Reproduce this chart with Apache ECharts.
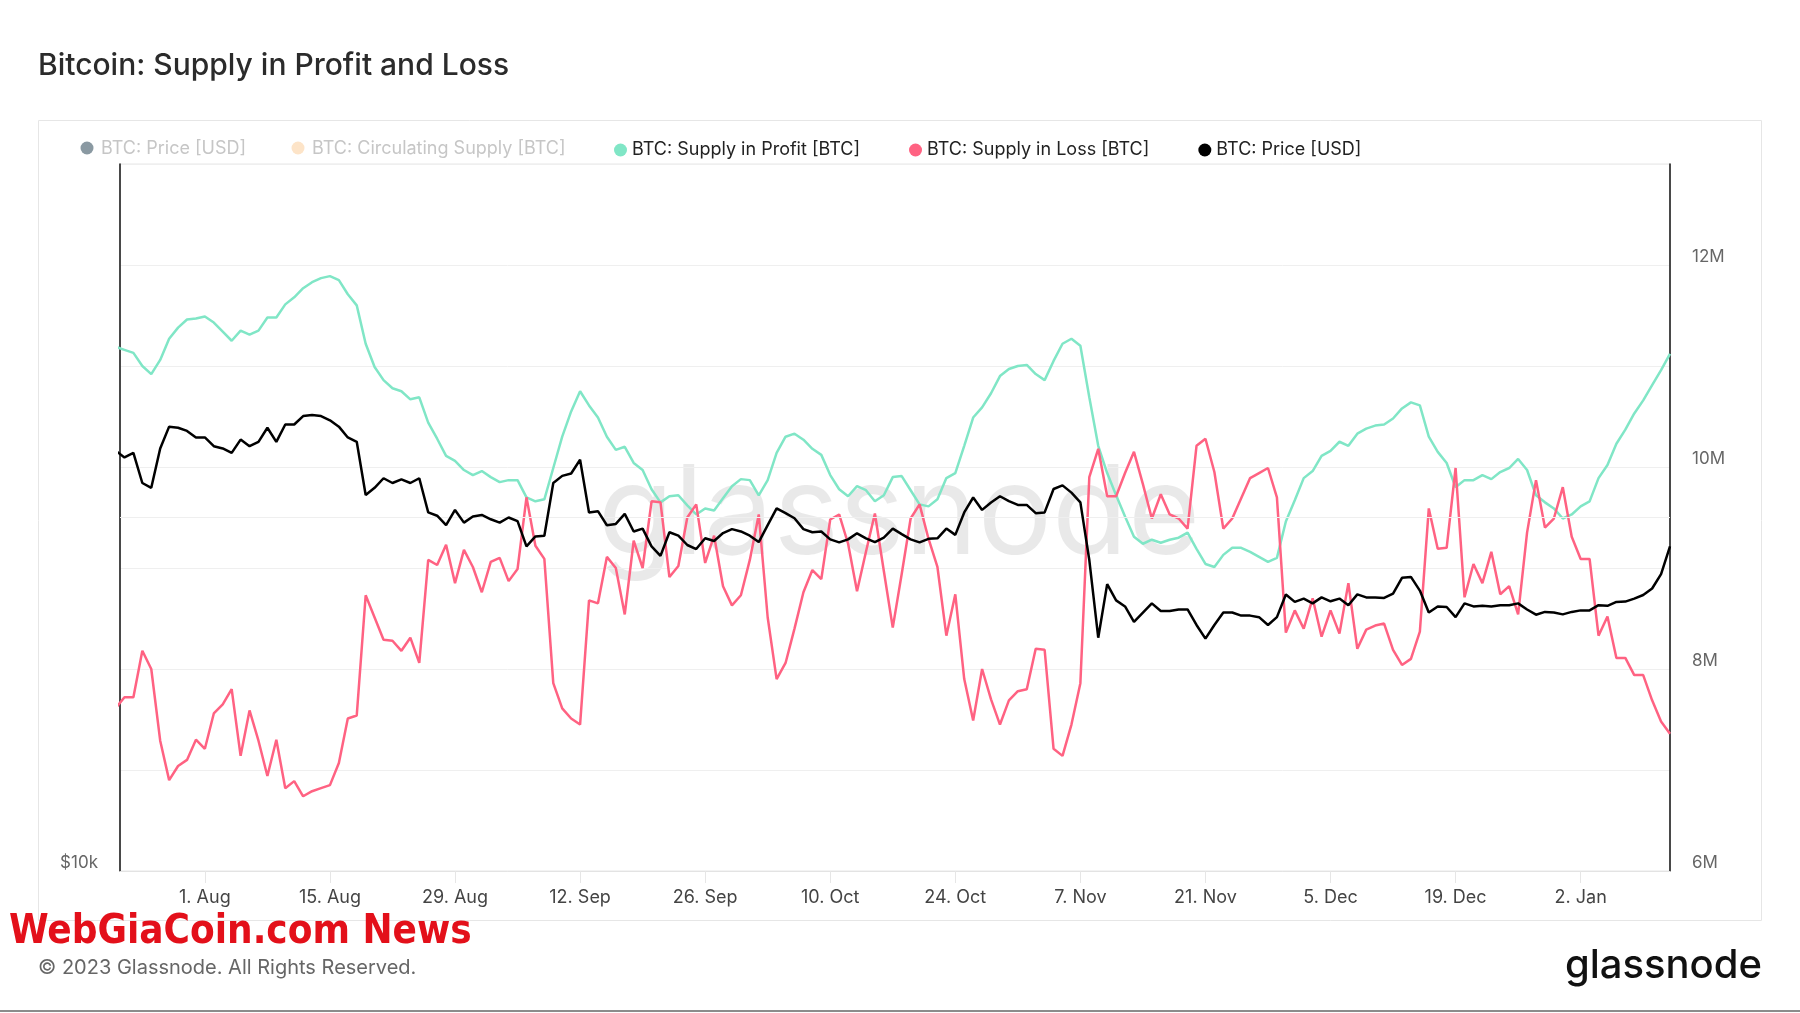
<!DOCTYPE html>
<html><head><meta charset="utf-8">
<script src="https://cdn.jsdelivr.net/npm/echarts@6/dist/echarts.min.js"></script>
<style>html,body{margin:0;padding:0;background:#fff}#c{width:1800px;height:1013px}</style>
</head><body><div id="c"></div>
<script>
// ---- data (daily, starting at startDate) ----
const startDate = '2022-07-22';
const tickDates = ['2022-08-01','2022-08-15','2022-08-29','2022-09-12','2022-09-26','2022-10-10','2022-10-24','2022-11-07','2022-11-21','2022-12-05','2022-12-19','2023-01-02'];
const tickLabels = ['1. Aug','15. Aug','29. Aug','12. Sep','26. Sep','10. Oct','24. Oct','7. Nov','21. Nov','5. Dec','19. Dec','2. Jan'];
const rightTicks = ['6M','8M','10M','12M'];

// Supply in Profit [M BTC]
const supplyProfit = [11.19,
 11.16,11.13,11.00,10.92,11.06,11.27,11.38,11.46,11.47,11.49,11.43,11.34,11.25,11.35,11.31,11.35,11.48,11.48,11.61,11.68,11.77,11.83,11.87,11.89,11.85,11.71,11.60,11.22,10.99,10.86,10.78,10.75,10.67,10.69,10.44,
 10.28,10.11,10.06,9.97,9.92,9.96,9.90,9.85,9.87,9.87,9.70,9.66,9.68,9.99,10.30,10.55,10.75,10.61,10.49,10.30,10.17,10.20,10.04,9.97,9.78,9.65,9.71,9.72,9.62,9.53,9.59,9.57,9.69,9.81,9.88,
 9.87,9.72,9.87,10.14,10.30,10.33,10.27,10.18,10.12,9.92,9.78,9.71,9.81,9.77,9.66,9.72,9.90,9.91,9.77,9.63,9.61,9.68,9.89,9.94,10.21,10.49,10.59,10.73,10.90,10.97,11.00,11.01,10.92,10.86,
 11.05,11.22,11.27,11.20,10.69,10.21,9.94,9.72,9.51,9.31,9.24,9.28,9.25,9.28,9.30,9.35,9.19,9.04,9.01,9.13,9.20,9.20,9.16,9.11,9.06,9.10,9.46,9.67,9.89,9.96,10.11,10.16,10.25,10.21,
 10.33,10.38,10.41,10.42,10.48,10.58,10.64,10.61,10.30,10.15,10.04,9.80,9.87,9.87,9.92,9.88,9.95,9.99,10.08,9.97,9.72,9.65,9.59,9.49,9.53,9.61,9.66,9.89,10.02,10.23,10.37,10.53,10.66,10.81,10.96,11.12];

// Supply in Loss [M BTC]
const supplyLoss = [7.61,
 7.72,7.72,8.18,8.00,7.29,6.90,7.04,7.10,7.30,7.21,7.56,7.65,7.80,7.14,7.59,7.29,6.94,7.30,6.82,6.89,6.74,6.79,6.82,6.85,7.07,7.51,7.54,8.73,8.51,8.29,8.28,8.18,8.31,8.06,9.08,
 9.03,9.23,8.85,9.18,9.01,8.76,9.06,9.10,8.87,8.99,9.70,9.22,9.09,7.86,7.61,7.51,7.45,8.68,8.65,9.11,9.00,8.54,9.27,9.00,9.66,9.65,8.91,9.02,9.50,9.63,9.05,9.32,8.82,8.63,8.73,
 9.08,9.53,8.51,7.90,8.06,8.40,8.76,8.98,8.89,9.48,9.53,9.24,8.77,9.16,9.54,8.97,8.41,8.94,9.49,9.63,9.29,9.01,8.33,8.74,7.90,7.49,8.00,7.70,7.45,7.69,7.78,7.80,8.20,8.19,
 7.21,7.14,7.45,7.86,9.90,10.18,9.71,9.71,9.94,10.15,9.83,9.49,9.73,9.53,9.49,9.39,10.21,10.28,9.95,9.39,9.49,9.69,9.89,9.94,9.99,9.70,8.36,8.58,8.40,8.70,8.32,8.58,8.35,8.85,
 8.20,8.39,8.43,8.45,8.19,8.04,8.10,8.37,9.59,9.19,9.20,9.99,8.71,9.04,8.85,9.16,8.74,8.82,8.54,9.35,9.87,9.40,9.49,9.80,9.31,9.09,9.09,8.33,8.52,8.11,8.11,7.94,7.94,7.69,7.48,7.36];

// Price [k USD]
const priceUSD = [22.8,
 22.5,22.7,21.4,21.2,22.9,23.9,23.85,23.7,23.4,23.4,23.0,22.9,22.7,23.3,23.0,23.2,23.85,23.2,24.0,24.0,24.4,24.45,24.4,24.2,23.9,23.4,23.2,20.9,21.2,21.6,21.4,21.55,21.4,21.6,20.2,
 20.07,19.7,20.3,19.8,20.04,20.1,19.93,19.8,20.0,19.86,18.9,19.27,19.3,21.4,21.7,21.8,22.4,20.2,20.25,19.7,19.75,20.14,19.46,19.57,18.9,18.55,19.43,19.3,18.95,18.8,19.2,19.1,19.4,19.55,19.46,
 19.3,19.06,19.7,20.36,20.17,19.97,19.55,19.43,19.46,19.16,19.05,19.16,19.39,19.2,19.06,19.23,19.57,19.36,19.16,19.05,19.18,19.2,19.57,19.33,20.2,20.8,20.3,20.6,20.85,20.65,20.5,20.5,20.17,20.2,
 21.15,21.3,21.0,20.6,18.4,15.8,17.55,17.0,16.8,16.3,16.6,16.9,16.65,16.65,16.7,16.7,16.2,15.77,16.2,16.6,16.6,16.5,16.5,16.45,16.2,16.45,17.2,16.95,17.06,16.9,17.1,16.97,17.06,16.84,
 17.2,17.1,17.1,17.08,17.23,17.77,17.8,17.33,16.6,16.8,16.78,16.45,16.9,16.8,16.82,16.8,16.84,16.84,16.9,16.7,16.53,16.62,16.6,16.54,16.62,16.67,16.67,16.84,16.82,16.95,16.96,17.06,17.18,17.4,17.9,18.9];

// ---- build ----
const DAY = 864e5;
const t0 = Date.parse(startDate);
const dayOf = s => Math.round((Date.parse(s) - t0) / DAY);
const tickPos = tickDates.map(dayOf);
const labelMap = {};
tickPos.forEach((p, i) => { labelMap[p] = tickLabels[i]; });
const lastDay = supplyProfit.length - 1;

const FONT = 'Inter, "Noto Sans", sans-serif';
const GREEN = '#80e6c6', PINK = '#ff6282', BLACK = '#000000';

const chart = echarts.init(document.getElementById('c'), null, {renderer: 'canvas'});
chart.setOption({
  animation: false,
  backgroundColor: '#ffffff',
  textStyle: {fontFamily: FONT},
  title: {
    text: 'Bitcoin: Supply in Profit and Loss',
    left: 33, top: 46,
    textStyle: {fontFamily: FONT, fontSize: 30, fontWeight: 500, color: '#2b2b2b'}
  },
  legend: {
    left: 609, top: 136, icon: 'circle', itemWidth: 13, itemHeight: 13, itemGap: 49,
    textStyle: {fontFamily: FONT, fontSize: 18, color: '#222'},
    data: ['BTC: Supply in Profit [BTC]', 'BTC: Supply in Loss [BTC]', 'BTC: Price [USD]']
  },
  grid: {left: 120, right: 130, top: 164, bottom: 142, show: true, borderColor: '#e6e6e6', borderWidth: 1},
  xAxis: {
    type: 'value', min: 0.5, max: lastDay,
    axisLine: {show: true, lineStyle: {color: '#e3e3e3'}},
    axisTick: {show: true, length: 12, lineStyle: {color: '#e6e6e6'}, customValues: tickPos},
    axisLabel: {customValues: tickPos, margin: 18, fontSize: 18, color: '#444', fontFamily: FONT,
      formatter: v => labelMap[Math.round(v)] || ''},
    splitLine: {show: false}
  },
  yAxis: [
    {
      type: 'log', logBase: 10, min: 10000, max: 40000, position: 'left',
      axisLine: {show: true, lineStyle: {color: '#111', width: 1.5}},
      axisTick: {show: false}, splitLine: {show: false},
      axisLabel: {show: true, margin: 22, fontSize: 17, color: '#666', verticalAlign: 'bottom', fontFamily: FONT,
        showMaxLabel: false,
        formatter: v => (Math.abs(v - 10000) < 1 ? '$10k' : '')}
    },
    {
      type: 'value', min: 6e6, max: 13e6, interval: 1e6, position: 'right',
      axisLine: {show: true, lineStyle: {color: '#111', width: 1.5}},
      axisTick: {show: false},
      splitLine: {show: true, lineStyle: {color: '#efefef', width: 1}},
      axisLabel: {margin: 22, fontSize: 17, color: '#666', verticalAlign: 'bottom', fontFamily: FONT,
        formatter: v => { const m = Math.round(v / 1e6); return rightTicks.indexOf(m + 'M') >= 0 ? m + 'M' : ''; }}
    }
  ],
  series: [
    {
      name: 'grid20k', type: 'line', yAxisIndex: 0, data: [], silent: true, z: 1,
      markLine: {silent: true, symbol: 'none', label: {show: false}, animation: false,
        lineStyle: {color: '#efefef', type: 'solid', width: 1}, data: [{yAxis: 20000}]}
    },
    {
      name: 'BTC: Supply in Profit [BTC]', type: 'line', yAxisIndex: 1, showSymbol: false, z: 3,
      lineStyle: {color: GREEN, width: 2.5}, itemStyle: {color: GREEN},
      data: supplyProfit.map((v, i) => [i, v * 1e6])
    },
    {
      name: 'BTC: Supply in Loss [BTC]', type: 'line', yAxisIndex: 1, showSymbol: false, z: 4,
      lineStyle: {color: PINK, width: 2.5}, itemStyle: {color: PINK},
      data: supplyLoss.map((v, i) => [i, v * 1e6])
    },
    {
      name: 'BTC: Price [USD]', type: 'line', yAxisIndex: 0, showSymbol: false, z: 5,
      lineStyle: {color: BLACK, width: 2.5}, itemStyle: {color: BLACK},
      data: priceUSD.map((v, i) => [i, v * 1000])
    }
  ],
  graphic: [
    {type: 'rect', z: -10, shape: {x: 38.5, y: 120.5, width: 1723, height: 800}, style: {fill: 'none', stroke: '#e6e6e6', lineWidth: 1}},
    {type: 'text', z: 0, x: 899, y: 517, style: {text: 'glassnode', fontFamily: FONT, fontSize: 124, fontWeight: 400,
      fill: 'rgba(0,0,0,0.085)', textAlign: 'center', textVerticalAlign: 'middle'}},
    {type: 'circle', shape: {cx: 87, cy: 148, r: 6.5}, style: {fill: '#8a99a2'}},
    {type: 'text', x: 101, y: 149, style: {text: 'BTC: Price [USD]', fontFamily: FONT, fontSize: 18, fill: '#c6c6c6', textVerticalAlign: 'middle'}},
    {type: 'circle', shape: {cx: 298, cy: 148, r: 6.5}, style: {fill: '#fde4c8'}},
    {type: 'text', x: 312, y: 149, style: {text: 'BTC: Circulating Supply [BTC]', fontFamily: FONT, fontSize: 18, fill: '#c6c6c6', textVerticalAlign: 'middle'}},
    {type: 'text', x: 38, y: 968, style: {text: '© 2023 Glassnode. All Rights Reserved.', fontFamily: FONT, fontSize: 20, fill: '#666', textVerticalAlign: 'middle'}},
    {type: 'text', x: 1762, y: 966, style: {text: 'glassnode', fontFamily: FONT, fontSize: 40, fontWeight: 500, fill: '#111', textAlign: 'right', textVerticalAlign: 'middle'}},
    {type: 'text', x: 9, y: 933, style: {text: 'WebGiaCoin.com News', fontFamily: '"DejaVu Sans Condensed", "DejaVu Sans", sans-serif', fontSize: 40, fontWeight: 'bold', fill: '#e3101a', textVerticalAlign: 'middle'}},
    {type: 'line', shape: {x1: 0, y1: 1011, x2: 1800, y2: 1011}, style: {stroke: '#8c8c8c', lineWidth: 2}}
  ]
});
</script>
</body></html>
